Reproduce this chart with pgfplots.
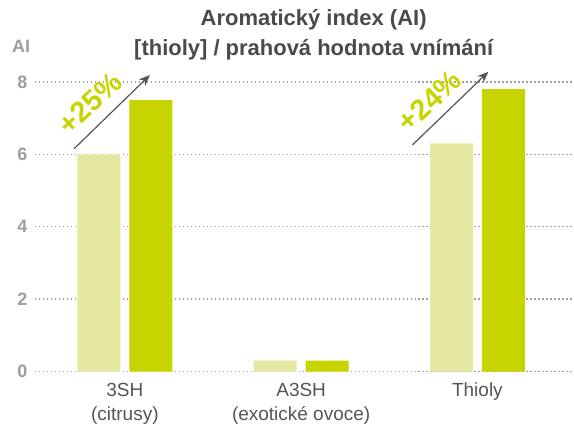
\documentclass[border=0pt]{standalone}
\usepackage{fontspec}
\setmainfont{Liberation Sans}
\usepackage{pgfplots}
\pgfplotsset{compat=1.18}
\usetikzlibrary{arrows.meta}

\definecolor{barlight}{HTML}{E4E8A0}
\definecolor{bardark}{HTML}{C8D400}
\definecolor{titlegray}{HTML}{4A4A4A}
\definecolor{tickgray}{HTML}{9E9E9E}
\definecolor{labelgray}{HTML}{555555}
\definecolor{gridgray}{HTML}{A0A0A0}

\begin{document}
\begin{tikzpicture}
\begin{axis}[
    scale only axis,
    width=539pt,
    height=290pt,
    xmin=-0.51, xmax=2.544,
    ymin=0, ymax=8,
    clip=false,
    axis line style={draw=none},
    major tick length=0pt,
    ytick={0,2,4,6,8},
    xtick={0,1,2},
    xticklabels={3SH\\(citrusy), A3SH\\(exotické ovoce), Thioly},
    xticklabel style={align=center, font=\fontsize{19}{24}\selectfont, text=labelgray, yshift=-8pt},
    yticklabel style={font=\fontsize{18}{20}\selectfont\bfseries, text=tickgray, xshift=-4pt},
    /pgf/number format/assume math mode=true,
    ymajorgrids=true,
    grid style={gridgray, line width=1.4pt, dash pattern=on 1.4pt off 2.6pt},
]

% 3SH, A3SH, Thioly
\addplot[ybar, bar width=0.2437, bar shift=-0.147, fill=barlight, draw=none]
    coordinates {(0,6.0) (1,0.3) (2,6.3)};
\addplot[ybar, bar width=0.2437, bar shift=0.147, fill=bardark, draw=none]
    coordinates {(0,7.5) (1,0.3) (2,7.8)};

% arrows with percentages
\draw[labelgray, line width=1.2pt, -{Stealth[length=11pt, width=9pt]}]
    (axis cs:-0.289,6.15) -- (axis cs:0.142,8.19);
\draw[labelgray, line width=1.2pt, -{Stealth[length=11pt, width=9pt]}]
    (axis cs:1.632,6.26) -- (axis cs:2.062,8.28);
\node[rotate=43, text=bardark, font=\fontsize{29}{30}\selectfont\bfseries]
    at (axis cs:-0.198,7.40) {+25\%};
\node[rotate=43, text=bardark, font=\fontsize{29}{30}\selectfont\bfseries]
    at (axis cs:1.728,7.48) {+24\%};

% title and axis label
\node[align=center, text=titlegray, font=\fontsize{22}{30}\selectfont\bfseries]
    at (axis cs:1.071,9.30) {Aromatický index (AI)\\{[thioly]} / prahová hodnota vnímání};
\node[text=tickgray, font=\fontsize{18}{20}\selectfont\bfseries]
    at (axis cs:-0.589,8.97) {AI};
\end{axis}
\path[use as bounding box] (-35pt,-55pt) rectangle (539pt,372pt);
\end{tikzpicture}
\end{document}
